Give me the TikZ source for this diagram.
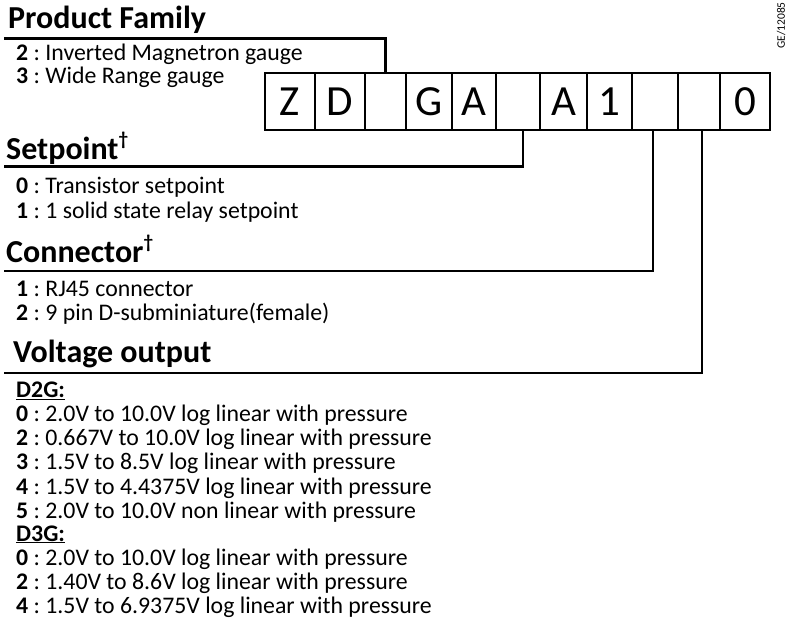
\documentclass[tikz,border=0pt]{standalone}
\usepackage{fontspec}
\setmainfont{Carlito}
\newfontfamily\cellfont{Carlito}
\frenchspacing
\begin{document}
\begin{tikzpicture}[x=1pt,y=-1pt,
  line/.style={line width=2.2pt,line join=miter},
  cell/.style={draw,line width=2pt,minimum height=57pt,inner sep=0pt,anchor=north west,text height=27.5pt,text depth=0pt,font=\cellfont\fontsize{43}{43}\selectfont},
  head/.style={anchor=base west,inner sep=0pt,font=\fontsize{32}{34}\selectfont\bfseries},
  item/.style={anchor=base west,inner sep=0pt,font=\fontsize{23.8}{25}\selectfont}]
\useasboundingbox (0,0) rectangle (791,626);
% code cells
\foreach \i/\xx/\w/\t in {1/264/50/Z, 2/314/50/D, 3/364/41/{}, 4/405/46/G, 5/451/44/A, 6/495/44/{}, 7/539/47/A, 8/586/45/1, 9/631/46/{}, 10/677/42/{}, 11/719/50/0}
  \node[cell,minimum width=\w pt] (c\i) at (\xx,72) {\t};
% reference number
\node[rotate=90,anchor=east,inner sep=0pt,font=\fontsize{11.5}{11.5}\selectfont] (ge) at (781,2) {GE/12085};
% Product family
\node[head] (pf) at (8,28.5) {Product Family};
\coordinate (pfL) at (4,38.5);
\draw[line] (c3.north) |- (pfL);
\node[item] (pf2) at (16,60) {\textbf{2} : Inverted Magnetron gauge};
\node[item] (pf3) at (16,83) {\textbf{3} : Wide Range gauge};
% Setpoint
\node[head] (sp) at (6,159) {Setpoint\raisebox{0.42em}{\fontsize{19}{19}\selectfont †}};
\coordinate (spL) at (4,166.5);
\draw[line] ([xshift=5pt]c6.south) |- (spL);
\node[item] (sp0) at (16,193) {\textbf{0} : Transistor setpoint};
\node[item] (sp1) at (16,218) {\textbf{1} : 1 solid state relay setpoint};
% Connector
\node[head] (cn) at (6,262) {Connector\raisebox{0.42em}{\fontsize{19}{19}\selectfont †}};
\coordinate (cnL) at (4,271);
\draw[line] ([xshift=-2pt]c9.south) |- (cnL);
\node[item] (cn1) at (16,296.5) {\textbf{1} : RJ45 connector};
\node[item] (cn2) at (16,320) {\textbf{2} : 9 pin D-subminiature(female)};
% Voltage output
\node[head] (vo) at (13,362) {Voltage output};
\coordinate (voL) at (4,373);
\draw[line] ([xshift=3pt]c10.south) |- (voL);
\node[item] (d2g) at (16,397.5) {\textbf{\underline{D2G:}}};
\node[item] (d2a) at (16,421) {\textbf{0} : 2.0V to 10.0V log linear with pressure};
\node[item] (d2b) at (16,445) {\textbf{2} : 0.667V to 10.0V log linear with pressure};
\node[item] (d2c) at (16,469.5) {\textbf{3} : 1.5V to 8.5V log linear with pressure};
\node[item] (d2d) at (16,494) {\textbf{4} : 1.5V to 4.4375V log linear with pressure};
\node[item] (d2e) at (16,518.5) {\textbf{5} : 2.0V to 10.0V non linear with pressure};
\node[item] (d3g) at (16,541) {\textbf{\underline{D3G:}}};
\node[item] (d3a) at (16,565) {\textbf{0} : 2.0V to 10.0V log linear with pressure};
\node[item] (d3b) at (16,589) {\textbf{2} : 1.40V to 8.6V log linear with pressure};
\node[item] (d3c) at (16,613.5) {\textbf{4} : 1.5V to 6.9375V log linear with pressure};
\end{tikzpicture}
\end{document}
